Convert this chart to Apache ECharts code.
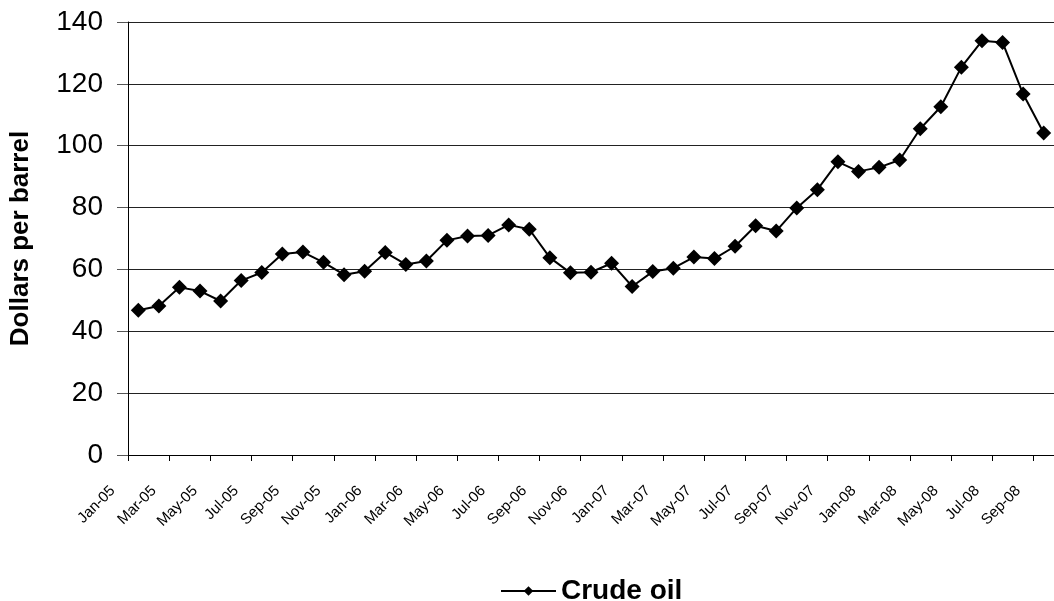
<!DOCTYPE html>
<html>
<head>
<meta charset="utf-8">
<script src="https://cdn.jsdelivr.net/npm/echarts@6/dist/echarts.min.js"></script>
<style>html,body{margin:0;padding:0;background:#fff;}#c{width:1054px;height:601px;}</style>
</head>
<body>
<div id="c"></div>
<script>
const categories = [
  'Jan-05','Feb-05','Mar-05','Apr-05','May-05','Jun-05','Jul-05','Aug-05','Sep-05','Oct-05','Nov-05','Dec-05',
  'Jan-06','Feb-06','Mar-06','Apr-06','May-06','Jun-06','Jul-06','Aug-06','Sep-06','Oct-06','Nov-06','Dec-06',
  'Jan-07','Feb-07','Mar-07','Apr-07','May-07','Jun-07','Jul-07','Aug-07','Sep-07','Oct-07','Nov-07','Dec-07',
  'Jan-08','Feb-08','Mar-08','Apr-08','May-08','Jun-08','Jul-08','Aug-08','Sep-08'
];
const crudeOil = [
  46.8, 48.2, 54.2, 53.0, 49.8, 56.4, 59.0, 65.0, 65.6, 62.3, 58.3, 59.4,
  65.5, 61.6, 62.7, 69.4, 70.8, 71.0, 74.4, 73.0, 63.8, 58.9, 59.1, 62.0,
  54.5, 59.3, 60.4, 64.0, 63.5, 67.5, 74.1, 72.4, 79.9, 85.8, 94.8, 91.7,
  93.0, 95.4, 105.5, 112.6, 125.4, 133.9, 133.4, 116.7, 104.1
];
const yTicks = [0, 20, 40, 60, 80, 100, 120, 140];

const FONT = 'Arial, "Liberation Sans", sans-serif';
const chart = echarts.init(document.getElementById('c'), null, {renderer: 'canvas'});
chart.setOption({
  backgroundColor: '#ffffff',
  animation: false,
  textStyle: {fontFamily: FONT},
  grid: {left: 128, top: 22, bottom: 146, right: -9, containLabel: false},
  legend: {
    data: ['Crude oil'],
    left: 495, top: 572,
    itemWidth: 55, itemHeight: 12, itemGap: 8,
    textStyle: {fontSize: 28, fontWeight: 'bold', color: '#000', fontFamily: FONT}
  },
  xAxis: {
    type: 'category',
    data: categories,
    boundaryGap: true,
    axisLine: {show: true, lineStyle: {color: '#000', width: 1}},
    axisTick: {show: true, interval: 1, length: 6, lineStyle: {color: '#000'}},
    axisLabel: {
      interval: 1, rotate: 45, fontSize: 15, color: '#000', margin: 8,
      padding: [0, 36, 0, 0], fontFamily: FONT
    },
    splitLine: {show: false}
  },
  yAxis: {
    type: 'value',
    min: yTicks[0], max: yTicks[yTicks.length - 1], interval: 20,
    name: 'Dollars per barrel',
    nameLocation: 'middle',
    nameGap: 94,
    nameTextStyle: {fontSize: 26, fontWeight: 'bold', color: '#000', fontFamily: FONT},
    axisLine: {show: true, lineStyle: {color: '#000', width: 1}},
    axisTick: {show: true, length: 11, lineStyle: {color: '#555'}},
    axisLabel: {fontSize: 28, color: '#000', margin: 25, fontFamily: FONT},
    splitLine: {show: true, lineStyle: {color: '#222', width: 1}}
  },
  series: [{
    name: 'Crude oil',
    type: 'line',
    data: crudeOil,
    symbol: 'diamond',
    symbolSize: 15,
    showAllSymbol: true,
    itemStyle: {color: '#000'},
    lineStyle: {color: '#000', width: 2}
  }]
});
</script>
</body>
</html>
